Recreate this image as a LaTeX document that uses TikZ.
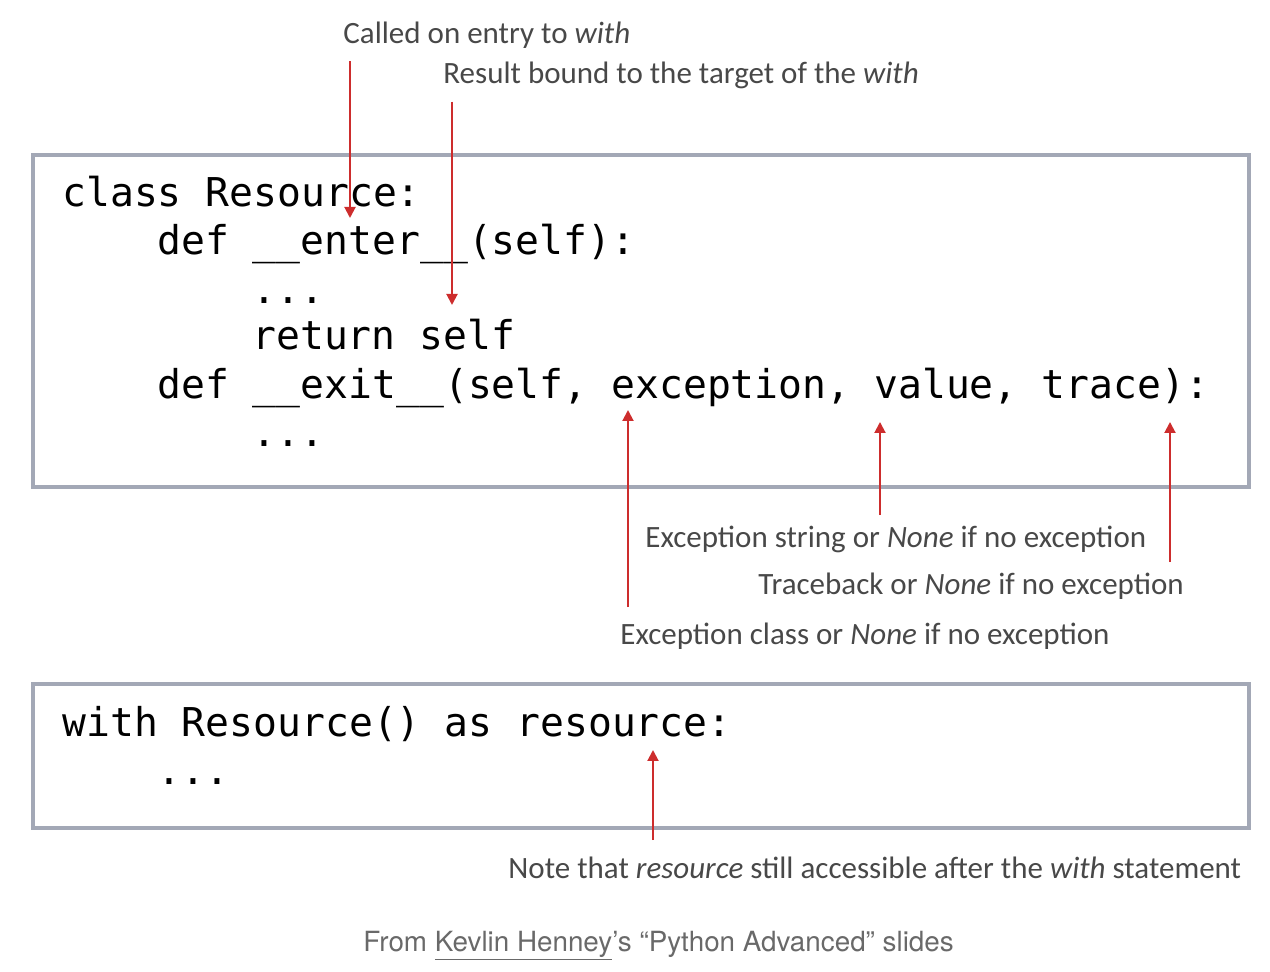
\documentclass[tikz,border=0pt]{standalone}
\usepackage{fontspec}
\setmainfont{Carlito}
\newfontfamily\codefont{DejaVu Sans Mono}
\newfontfamily\capfont{TeX Gyre Heros}
\usetikzlibrary{arrows.meta}
\definecolor{frame}{RGB}{163,168,182}
\definecolor{notegray}{RGB}{72,72,72}
\definecolor{capgray}{RGB}{105,105,105}
\definecolor{arrowred}{RGB}{205,45,45}
\newcommand{\py}[1]{\detokenize{#1}}

\begin{document}
\begin{tikzpicture}[x=0.5pt,y=-0.5pt,
  box/.style={draw=frame,line width=1.6pt},
  code/.style={anchor=base west,inner sep=0pt,
    font=\codefont\fontsize{19.85}{24}\selectfont},
  note/.style={anchor=base west,inner sep=0pt,text=notegray,
    font=\fontsize{15.5}{18}\selectfont},
  arr/.style={draw=arrowred,line width=1pt,-{Triangle[length=5.5pt,width=5.5pt]}}]
\useasboundingbox (0,0) rectangle (1270,972);
\draw[box] (33,155) rectangle (1249,487);
\draw[box] (33,684) rectangle (1249,828);
\node[code] (cls) at (62,207) {\py{class Resource:}};
\node[code] (enter) at (157,255) {\py{def __enter__(self):}};
\node[code] (dots1) at (252,304) {\py{...}};
\node[code] (ret) at (252,350) {\py{return self}};
\node[code] (exit) at (157,399) {\py{def __exit__(self, exception, value, trace):}};
\node[code] (dots2) at (252,447) {\py{...}};
\node[code] (with) at (62,737) {\py{with Resource() as resource:}};
\node[code] (dots3) at (157,784) {\py{...}};
\node[note] (called) at (343,44) {Called on entry to \textit{with}};
\node[note] (result) at (443,84) {Result bound to the target of the \textit{with}};
\node[note] (excstr) at (645,548) {Exception string or \textit{None} if no exception};
\node[note] (trace) at (758,595) {Traceback or \textit{None} if no exception};
\node[note] (excclass) at (620,645) {Exception class or \textit{None} if no exception};
\node[note] (after) at (508,878) {Note that \textit{resource} still accessible after the \textit{with} statement};
\node[anchor=base west,inner sep=0pt,text=capgray,
  font=\capfont\fontsize{13.9}{16}\selectfont] (credit) at (363,951)
  {From \underline{Kevlin Henney}’s “Python Advanced” slides};
\coordinate (enterpt) at (350,218);
\coordinate (selfpt) at (452,305);
\coordinate (excpt) at (628,410);
\coordinate (valpt) at (880,422);
\coordinate (tracept) at (1170,422);
\coordinate (respt) at (653,750);
\draw[arr] (enterpt |- called.south) ++(0,12) -- (enterpt);
\draw[arr] (selfpt |- result.south) ++(0,12) -- (selfpt);
\draw[arr] (excpt |- excclass.north) ++(0,-16) -- (excpt);
\draw[arr] (valpt |- excstr.north) ++(0,-11) -- (valpt);
\draw[arr] (tracept |- trace.north) ++(0,-11) -- (tracept);
\draw[arr] (respt |- after.north) ++(0,-16) -- (respt);
\end{tikzpicture}
\end{document}
